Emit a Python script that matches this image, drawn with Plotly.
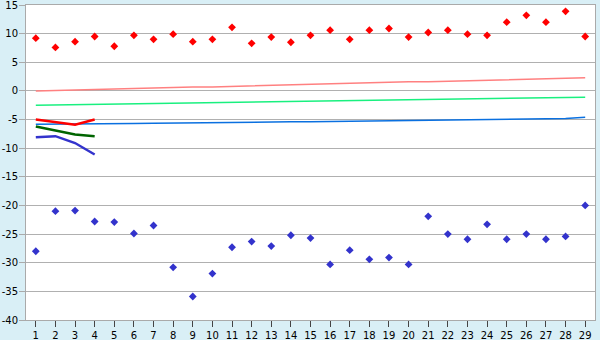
import plotly.graph_objects as go

days = list(range(1, 30))
tick_labels = [str(d) for d in days]
y_ticks = list(range(-40, 16, 5))
y_tick_labels = [str(v) for v in y_ticks]

high_pts = [9.2, 7.6, 8.6, 9.5, 7.8, 9.7, 9.0, 9.9, 8.6, 9.0,
            11.1, 8.3, 9.4, 8.5, 9.7, 10.6, 9.0, 10.6, 10.9, 9.4,
            10.2, 10.6, 9.9, 9.7, 12.0, 13.2, 12.0, 13.9, 9.5]
low_pts = [-28.0, -21.0, -20.9, -22.8, -22.9, -24.9, -23.5, -30.8, -35.9, -31.9,
           -27.3, -26.3, -27.1, -25.2, -25.7, -30.3, -27.8, -29.4, -29.1, -30.3,
           -21.9, -25.0, -25.9, -23.3, -25.9, -25.0, -25.9, -25.4, -20.0]

pink_line = [0.0, 0.1, 0.2, 0.2, 0.3, 0.4, 0.5, 0.6, 0.7, 0.7,
             0.8, 0.9, 1.0, 1.1, 1.1, 1.2, 1.3, 1.4, 1.5, 1.6,
             1.6, 1.7, 1.8, 1.9, 2.0, 2.0, 2.1, 2.2, 2.3]
green_line = [-2.5, -2.45, -2.4, -2.35, -2.3, -2.25, -2.2, -2.15, -2.0, -2.0,
              -2.0, -1.95, -1.9, -1.85, -1.8, -1.75, -1.7, -1.65, -1.6, -1.55,
              -1.5, -1.45, -1.4, -1.35, -1.3, -1.25, -1.2, -1.15, -1.1]
blue_line = [-5.8, -5.8, -5.75, -5.75, -5.7, -5.7, -5.65, -5.6, -5.6, -5.55,
             -5.5, -5.5, -5.45, -5.4, -5.4, -5.35, -5.3, -5.3, -5.25, -5.2,
             -5.2, -5.15, -5.1, -5.05, -5.0, -4.95, -4.9, -4.8, -4.6]

short_days = [1, 2, 3, 4]
red_short = [-5.0, -5.4, -5.9, -5.0]
dgreen_short = [-6.2, -6.9, -7.6, -7.9]
dblue_short = [-8.1, -7.9, -9.1, -11.1]

fig = go.Figure()
fig.add_trace(go.Scatter(x=days, y=pink_line, mode="lines",
                         line=dict(color="#ff8080", width=1.5), hoverinfo="skip"))
fig.add_trace(go.Scatter(x=days, y=green_line, mode="lines",
                         line=dict(color="#19f07f", width=1.5), hoverinfo="skip"))
fig.add_trace(go.Scatter(x=days, y=blue_line, mode="lines",
                         line=dict(color="#0a70e0", width=1.5), hoverinfo="skip"))
fig.add_trace(go.Scatter(x=short_days, y=red_short, mode="lines",
                         line=dict(color="#ff0000", width=2.5)))
fig.add_trace(go.Scatter(x=short_days, y=dgreen_short, mode="lines",
                         line=dict(color="#006400", width=2.5)))
fig.add_trace(go.Scatter(x=short_days, y=dblue_short, mode="lines",
                         line=dict(color="#3333cc", width=2.5)))
fig.add_trace(go.Scatter(x=days, y=high_pts, mode="markers",
                         marker=dict(symbol="diamond", size=6, color="#ff0000")))
fig.add_trace(go.Scatter(x=days, y=low_pts, mode="markers",
                         marker=dict(symbol="diamond", size=6, color="#3333cc")))

fig.update_layout(
    width=600, height=340,
    margin=dict(l=26, r=5, t=5, b=20, autoexpand=False),
    paper_bgcolor="#d9eff6",
    plot_bgcolor="#ffffff",
    showlegend=False,
    font=dict(family="DejaVu Sans", size=10, color="#000000"),
)
fig.update_xaxes(
    range=[0.5, 29.5], tickmode="array", tickvals=days, ticktext=tick_labels,
    showgrid=False, zeroline=False, automargin=False, ticklabeloverflow="allow",
    showline=True, linecolor="#aaaaaa", linewidth=1, mirror=True,
    ticks="outside", ticklen=6, tickcolor="#444444", tickwidth=1,
)
fig.update_yaxes(
    range=[-40, 15], tickmode="array", tickvals=y_ticks, ticktext=y_tick_labels,
    showgrid=True, gridcolor="#b0b0b0", gridwidth=1, zeroline=False, automargin=False,
    ticklabeloverflow="allow", ticklabelstandoff=-1,
    showline=True, linecolor="#aaaaaa", linewidth=1, mirror=True,
    ticks="outside", ticklen=6, tickcolor="#aaaaaa", tickwidth=1,
)

fig.write_html("out.html")
